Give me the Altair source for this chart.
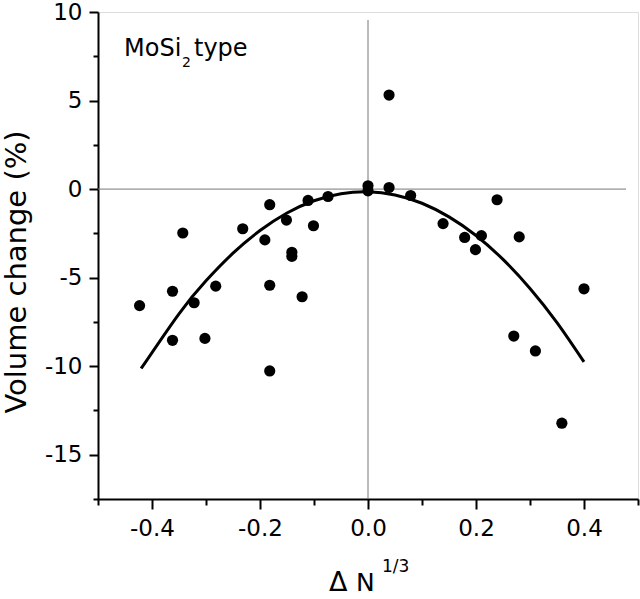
import altair as alt
import pandas as pd

# Measured points: relative size parameter vs. volume change
dn13 = [-0.423, -0.362, -0.343, -0.322, -0.282, -0.362, -0.302, -0.232,
        -0.182, -0.191, -0.151, -0.111, -0.101, -0.141, -0.141, -0.182,
        -0.122, -0.182, -0.074, 0.039, 0.000, 0.000, 0.039, 0.079,
        0.239, 0.139, 0.179, 0.210, 0.199, 0.280, 0.400, 0.270,
        0.310, 0.359]
dv = [-6.58, -5.77, -2.48, -6.42, -5.48, -8.54, -8.43, -2.24,
      -0.88, -2.87, -1.75, -0.64, -2.07, -3.57, -3.80, -5.43,
      -6.08, -10.27, -0.42, 5.31, 0.19, -0.10, 0.09, -0.36,
      -0.60, -1.95, -2.73, -2.63, -3.42, -2.70, -5.63, -8.30,
      -9.14, -13.22]

# Parabolic trend curve, sampled along its length
fit_x = [-0.42, -0.35, -0.30, -0.25, -0.20, -0.15, -0.10, -0.05, 0.00,
         0.05, 0.10, 0.15, 0.20, 0.25, 0.30, 0.35, 0.40]
fit_y = [-10.13, -7.04, -5.18, -3.62, -2.34, -1.35, -0.66, -0.26, -0.15,
         -0.33, -0.80, -1.57, -2.62, -3.97, -5.61, -7.54, -9.76]

x_ticks = [-0.5, -0.4, -0.3, -0.2, -0.1, 0.0, 0.1, 0.2, 0.3, 0.4, 0.5]
y_ticks = [-17.5, -15, -12.5, -10, -7.5, -5, -2.5, 0, 2.5, 5, 7.5, 10]

df = pd.DataFrame({"x": dn13, "y": dv})
df_fit = pd.DataFrame({"x": fit_x, "y": fit_y})
one = pd.DataFrame({"k": [0]})

FONT = "DejaVu Sans"
W, H = 540, 487

xscale = alt.Scale(domain=[-0.5, 0.5], nice=False, zero=False)
yscale = alt.Scale(domain=[-17.5, 10], nice=False, zero=False)

# major ticks carry labels (plain hyphen for the sign), minor ticks are shorter
x_major = "abs(round(datum.value * 10)) % 2 === 0"
x_axis = alt.Axis(
    values=x_ticks, title=None, grid=False, domainWidth=2, domainColor="black",
    tickColor="black", tickWidth=2,
    tickSize={"condition": {"test": x_major, "value": 10}, "value": 6},
    labelExpr=f"{x_major} ? (datum.value < -0.001 ? '-' : '') + format(abs(datum.value), '.1f') : ''",
    labelFont=FONT, labelFontSize=23, labelColor="black", labelPadding=8,
)
y_major = "datum.value % 5 === 0"
y_axis = alt.Axis(
    values=y_ticks, title=None, grid=False, domainWidth=2,
    domainColor="black", tickColor="black", tickWidth=2,
    tickSize={"condition": {"test": y_major, "value": 9}, "value": 5},
    labelExpr=f"{y_major} ? (datum.value < 0 ? '-' : '') + format(abs(datum.value), 'd') : ''",
    labelFont=FONT, labelFontSize=23, labelColor="black", labelPadding=7,
)

points = alt.Chart(df).mark_circle(size=125, color="black", opacity=1).encode(
    x=alt.X("x:Q", scale=xscale, axis=x_axis),
    y=alt.Y("y:Q", scale=yscale, axis=y_axis),
)

fit = alt.Chart(df_fit).mark_line(
    color="black", strokeWidth=3, interpolate="natural"
).encode(
    x=alt.X("x:Q", scale=xscale),
    y=alt.Y("y:Q", scale=yscale),
)

hline = alt.Chart(one).mark_rule(color="#777777", strokeWidth=1).encode(
    x=alt.value(0), x2=alt.value(528), y=alt.datum(0, scale=yscale)
)
vline = alt.Chart(one).mark_rule(color="#777777", strokeWidth=1).encode(
    x=alt.datum(0, scale=xscale), y=alt.value(8), y2=alt.value(H)
)


def label(text, size, x, y, angle=0, align="left"):
    return alt.Chart(one).mark_text(
        font=FONT, fontSize=size, align=align, baseline="alphabetic",
        color="black", angle=angle,
    ).encode(x=alt.value(x), y=alt.value(y), text=alt.value(text))


chart = alt.layer(
    hline, vline, fit, points,
    label("MoSi", 24, 26, 44),
    label("2", 14, 84, 55),
    label("type", 24, 96, 44),
    label("Volume change (%)", 29, -72, 260, angle=270, align="center"),
    label("Δ", 27, 231, H + 92),
    label("N", 25, 258, H + 92),
    label("1/3", 17, 284, H + 73),
).properties(
    width=W, height=H,
    autosize=alt.AutoSizeParams(type="none"),
    padding={"left": 98, "top": 12, "right": 2, "bottom": 100},
).configure_view(stroke=None).configure(background="white")

chart.save("out.html", embed_options={"renderer": "svg", "actions": False})
